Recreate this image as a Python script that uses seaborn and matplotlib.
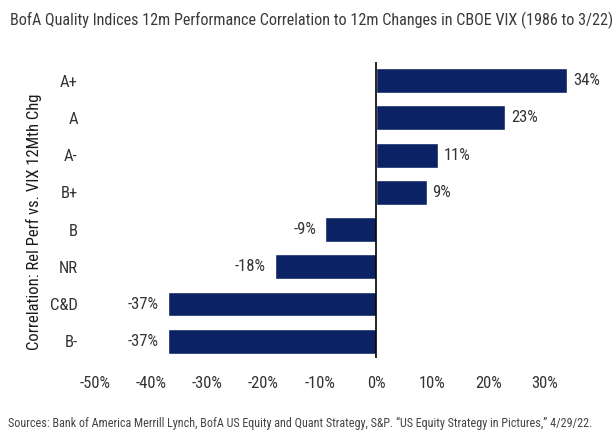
import matplotlib
matplotlib.use("Agg")
import matplotlib.pyplot as plt
import seaborn as sns
import pandas as pd

categories = ["A+", "A", "A-", "B+", "B", "NR", "C&D", "B-"]
values = [34, 23, 11, 9, -9, -18, -37, -37]
xticks = [-50, -40, -30, -20, -10, 0, 10, 20, 30]
xtick_labels = ["-50%", "-40%", "-30%", "-20%", "-10%", "0%", "10%", "20%", "30%"]

title = "BofA Quality Indices 12m Performance Correlation to 12m Changes in CBOE VIX (1986 to 3/22)"
source = "Sources: Bank of America Merrill Lynch, BofA US Equity and Quant Strategy, S&P. \u201cUS Equity Strategy in Pictures,\u201d 4/29/22."
ylabel = "Correlation: Rel Perf vs. VIX 12Mth Chg"

sns.set_theme(style="white")
fam = ["Roboto Condensed", "Lato", "DejaVu Sans"]
plt.rcParams["font.family"] = fam

df = pd.DataFrame({"cat": categories, "val": values})
navy = "#0b2265"

fig = plt.figure(figsize=(6.16, 4.44), dpi=100)
ax = fig.add_axes([89 / 616, 86 / 444, 512 / 616, 296 / 444])
sns.barplot(data=df, x="val", y="cat", order=categories, color=navy,
            saturation=1, width=0.67, ax=ax, orient="h")

ax.set_xlim(-51, 40)
ax.set_ylim(7.45, -0.5)
for s in ax.spines.values():
    s.set_visible(False)
ax.axvline(0, color="black", lw=1.2)

fs = 12
for i, v in enumerate(values):
    if v >= 0:
        ax.text(v + 1.0, i, f"{v}%", va="center", ha="left", fontsize=fs, color="#333333")
    else:
        ax.text(v - 1.6, i, f"{v}%", va="center", ha="right", fontsize=fs, color="#333333")

ax.set_xticks(xticks)
ax.set_xticklabels(xtick_labels, fontsize=fs, color="#333333")
ax.tick_params(axis="x", length=0, pad=13)
ax.tick_params(axis="y", length=0, pad=8)
for lab in ax.get_yticklabels():
    lab.set_fontsize(fs)
    lab.set_color("#333333")
ax.set_xlabel("")
ax.set_ylabel(ylabel, fontsize=12, color="#1a1a1a")
ax.yaxis.set_label_coords(-(89 - 42) / 512, 0.46)

fig.text(10 / 616, 1 - 20 / 444, title, fontsize=11.6, color="#3a3a3a", va="center", ha="left")
fig.text(8 / 616, 1 - 423 / 444, source, fontsize=8.7, color="#444444", va="center", ha="left")

fig.savefig("out.png", dpi=100)
